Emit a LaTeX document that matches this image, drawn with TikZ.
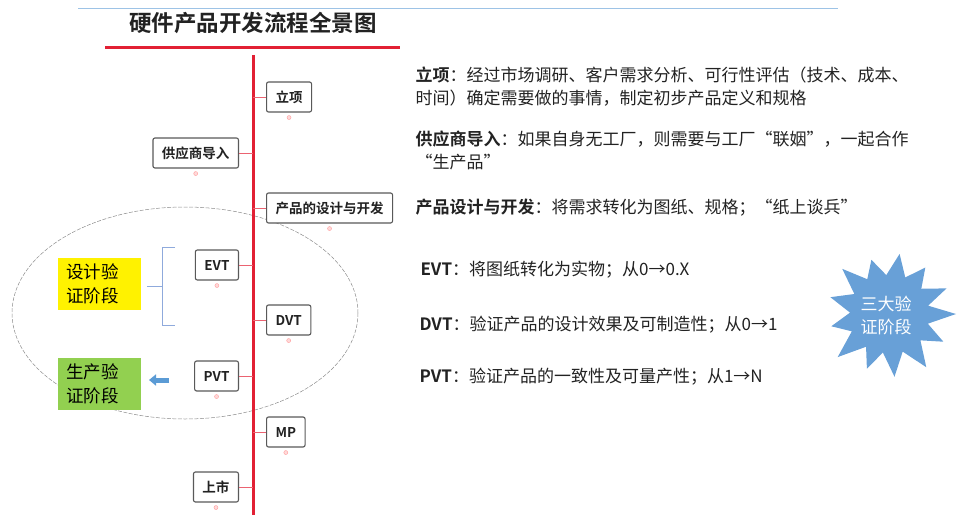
\documentclass[tikz,border=0pt]{standalone}
\usepackage{fontspec}
\setmainfont{Noto Sans CJK SC}[BoldFont={Noto Sans CJK SC Bold}]
\usetikzlibrary{arrows.meta}
\definecolor{spinered}{RGB}{226,32,52}
\definecolor{topblue}{RGB}{157,195,230}
\definecolor{brblue}{RGB}{143,170,220}
\definecolor{arrblue}{RGB}{91,155,213}
\definecolor{burstblue}{RGB}{104,160,215}
\definecolor{evgreen}{RGB}{146,208,80}
\definecolor{txt}{RGB}{34,34,34}
\tikzset{
  stage/.style={draw=black!65, line width=1.1pt, fill=white, rounded corners=2pt,
    minimum height=30pt, inner xsep=9pt, font=\fontsize{13.5}{15}\selectfont\bfseries, text=txt},
  conn/.style={spinered!70, line width=0.8pt},
  tag/.style={fill=pink!60, draw=pink!80!red, line width=0.4pt},
  desc/.style={anchor=west, align=left, text=txt, font=\fontsize{17}{23}\selectfont},
  phase/.style={minimum height=52pt, inner xsep=8pt, text width=67pt, align=left, text=black,
    font=\fontsize{17.5}{24}\selectfont}
}
\begin{document}
\begin{tikzpicture}[x=1pt, y=-1pt]
  \useasboundingbox (0,0) rectangle (969,519);

  % title
  \draw[topblue, line width=1pt] (78,9) -- (838,9);
  \node[text=txt, font=\fontsize{22.5}{24}\selectfont\bfseries] (title) at (253,23) {硬件产品开发流程全景图};
  \draw[spinered, line width=3pt] (105,48) -- (400,48);

  % ellipse round the three stages
  \draw[black!45, line width=0.5pt, dash pattern=on 4pt off 1.5pt] (185,313) ellipse [x radius=173, y radius=106];

  % spine
  \coordinate (spine) at (253,55);
  \coordinate (spineend) at (253,515);
  \draw[spinered, line width=3pt] (spine) -- (spineend);

  % stages
  \node[stage, anchor=west] (ly)  at (266,97)  {立项};
  \node[stage, anchor=east] (gys) at (239,153) {供应商导入};
  \node[stage, anchor=west] (sj)  at (266,208) {产品的设计与开发};
  \node[stage, anchor=east] (evt) at (239,265) {EVT};
  \node[stage, anchor=west] (dvt) at (266,320) {DVT};
  \node[stage, anchor=east] (pvt) at (239,376) {PVT};
  \node[stage, anchor=west] (mp)  at (266,432) {MP};
  \node[stage, anchor=east] (ss)  at (239,487) {上市};

  \foreach \n in {ly,sj,dvt,mp}
    \draw[conn] (\n.west) -- (\n.west -| spine);
  \foreach \n in {gys,evt,pvt,ss}
    \draw[conn] (\n.east) -- (\n.east -| spine);
  \foreach \n in {ly,gys,sj,evt,dvt,pvt,mp,ss}
    \draw[tag] (\n.south) ++(0,5) circle (2pt);

  % phases on the left
  \node[phase, fill=yellow] (dv) at (99.5,284) {设计验\\证阶段};
  \node[phase, fill=evgreen] (pv) at (99.5,384) {生产验\\证阶段};
  \coordinate (brtop) at (175,247);
  \coordinate (brbot) at (175,325);
  \coordinate (brmid) at (147,286);
  \draw[brblue, line width=0.8pt] (brtop) -- ++(-13,0) |- (brbot);
  \draw[brblue, line width=0.8pt] (brmid) -- ++(15,0);
  \coordinate (arrfrom) at (169,380);
  \coordinate (arrto) at (149,380);
  \draw[arrblue, line width=5pt, -{Triangle[length=7pt, width=11pt]}] (arrfrom) -- (arrto);

  % notes on the right
  \node[desc] (d1) at (412,86.5) {\textbf{立项}：经过市场调研、客户需求分析、可行性评估（技术、成本、\\时间）确定需要做的事情，制定初步产品定义和规格};
  \node[desc] (d2) at (412,150) {\textbf{供应商导入}：如果自身无工厂，则需要与工厂“联姻”，一起合作\\“生产品”};
  \node[desc] (d3) at (412,208) {\textbf{产品设计与开发}：将需求转化为图纸、规格；“纸上谈兵”};
  \node[desc] (d4) at (417,270) {\textbf{EVT}：将图纸转化为实物；从0→0.X};
  \node[desc] (d5) at (416,325) {\textbf{DVT}：验证产品的设计效果及可制造性；从0→1};
  \node[desc] (d6) at (416,377) {\textbf{PVT}：验证产品的一致性及可量产性；从1→N};

  % starburst
  \begin{scope}[shift={(889,314)}]
    \fill[burstblue] (0:67) \foreach \a/\r in {14/40, 27/61, 40/41, 55/65, 70/40, 85/63, 99/39,
        112/59, 125/40, 140/67, 155/41, 168/59, 182/39, 196/61, 210/40, 224/65, 238/41,
        252/57, 266/39, 280/61, 294/40, 308/59, 322/41, 336/63, 348/40} {-- (\a:\r)} -- cycle;
    \node[white, align=center, font=\fontsize{17}{23}\selectfont] (burst) at (-3,2) {三大验\\证阶段};
  \end{scope}
\end{tikzpicture}
\end{document}
